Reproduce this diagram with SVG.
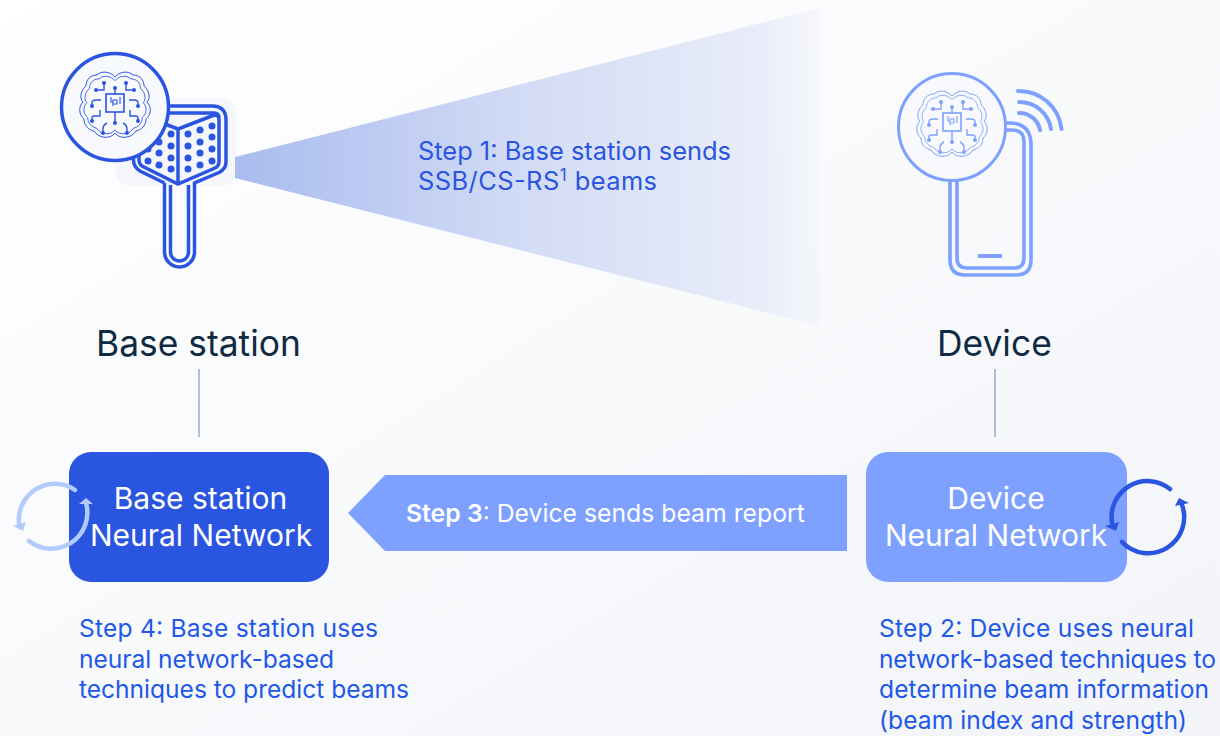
<svg xmlns="http://www.w3.org/2000/svg" width="1220" height="736" viewBox="0 0 1220 736">
<defs>
<linearGradient id="bg" x1="0" y1="0" x2="1" y2="1"><stop offset="0" stop-color="#ffffff"/><stop offset="1" stop-color="#f2f4f8"/></linearGradient>
<linearGradient id="beam" gradientUnits="userSpaceOnUse" x1="235" y1="0" x2="820" y2="0"><stop offset="0" stop-color="#a9bcef"/><stop offset="0.5" stop-color="#d3dcf5"/><stop offset="0.9" stop-color="#e9edfa"/><stop offset="1" stop-color="#f3f5fb" stop-opacity="0.7"/></linearGradient>
<path id="bo" d="M0 -30C-4 -35 -13 -37 -18 -32C-25 -32 -29 -27 -29 -21C-34 -17 -36 -9 -32 -5C-37 0 -36 8 -31 12C-31 19 -26 23 -21 24C-17 31 -5 33 0 26C5 33 17 31 21 24C26 23 31 19 31 12C36 8 37 0 32 -5C36 -9 34 -17 29 -21C29 -27 25 -32 18 -32C13 -37 4 -35 0 -30Z"/>
<g id="half">
<path d="M-11 -24V-17H-19M-23 -1V-4Q-23 -7 -19 -7H-14M-15 3V9H-21Q-23 9 -23 11V14M-12 26V22Q-12 18 -8 16"/>
<circle cx="-11" cy="-24" r="2" class="dot"/><circle cx="-19" cy="-17" r="2" class="dot"/><circle cx="-23" cy="-1" r="2" class="dot"/><circle cx="-23" cy="14" r="2" class="dot"/><circle cx="-12" cy="26" r="2" class="dot"/>
</g>
<g id="brain" fill="none" stroke="currentColor" stroke-width="1.4">
<use href="#bo" stroke-width="1"/>
<use href="#bo" stroke-width="1" transform="scale(0.88 0.88)"/>
<rect x="-9" y="-13" width="18" height="18" stroke-width="1.6"/>
<path d="M-4 -10V-5H-2V-1M5 -10V-3M-2 -7H2V-3H-2Z" stroke-width="1.1"/>
<path d="M0 -13V-19M0 5V16"/>
<circle cx="0" cy="-19" r="2" class="dot"/><circle cx="0" cy="16" r="2" class="dot"/>
<use href="#half"/>
<use href="#half" transform="scale(-1 1)"/>
</g>
</defs>
<style>
text{font-family:"Inter","Liberation Sans",sans-serif}
.dot{fill:currentColor;stroke:none}
.lab{font-size:35.4px;fill:#0f2a43}
.blue{font-size:24.6px;fill:#2258e8}
.step{font-size:25.4px;fill:#2a55e0}
.white{font-size:30px;fill:#fff;text-anchor:middle}
.rep{font-size:24.75px;fill:#fff}
.d{fill:#2a55e0}
.s1{fill:none;stroke:#2a55e0;stroke-width:3.5}
.s2{fill:none;stroke:#7ea1ff;stroke-width:3.6}
.cb{fill:none;stroke:#b3caff;stroke-width:4.5;stroke-linecap:round}
.cd{fill:none;stroke:#2a55e0;stroke-width:4.5;stroke-linecap:round}
</style>
<rect width="1220" height="736" fill="url(#bg)"/>
<rect x="116" y="98" width="120" height="88" rx="14" fill="#f5f6fb"/>
<path d="M235 157L820 8V326L235 178Z" fill="url(#beam)"/>
<g id="base-station-icon">
<path class="s1" d="M164.500 183V252A15 15 0 0 0 194.500 252V183L219 172.500Q226 169 226 162V120Q226 106 212 106H160Q140 106 133.500 140V160Q133.500 167 140 171L164.500 183"/>
<path class="s1" d="M170.500 185V252A9 9 0 0 0 188.500 252V185"/>
<path class="s1" d="M178 129V184M178 129L213 115.500Q219 114 219 120V162Q219 166 215 168L178 184L142 166Q139 164 139 160V125M165 113H214Q219 113 219 118M178 129L165 124"/>
<g class="d">
<circle cx="188" cy="134" r="3.500"/><circle cx="200" cy="130" r="3.500"/><circle cx="212" cy="126" r="3.500"/>
<circle cx="188" cy="146" r="3.500"/><circle cx="200" cy="142" r="3.500"/><circle cx="212" cy="137" r="3.500"/>
<circle cx="188" cy="158" r="3.500"/><circle cx="200" cy="153" r="3.500"/><circle cx="212" cy="149" r="3.500"/>
<circle cx="188" cy="169" r="3.500"/><circle cx="200" cy="165" r="3.500"/><circle cx="212" cy="161" r="3.500"/>
<circle cx="171" cy="134" r="3.500"/><circle cx="159" cy="142" r="3.500"/><circle cx="171" cy="146" r="3.500"/>
<circle cx="148" cy="149" r="3.500"/><circle cx="159" cy="153" r="3.500"/><circle cx="171" cy="158" r="3.500"/>
<circle cx="148" cy="161" r="3.500"/><circle cx="159" cy="165" r="3.500"/><circle cx="171" cy="169" r="3.500"/>
</g>
<circle cx="115" cy="107" r="53.500" fill="#f8f9fc" stroke="#2a55e0" stroke-width="3.500"/>
<use href="#brain" x="115" y="107" color="#2a55e0"/>
</g>
<g id="device-icon">
<path class="s2" d="M950 180V260Q950 275 965 275H1016Q1031 275 1031 260V145Q1031 123 1009 123H1004"/>
<path class="s2" d="M957 180V258Q957 268 967 268H1014Q1024 268 1024 258V142Q1024 130 1012 130H1004"/>
<path class="s2" style="stroke-width:4" d="M978 256H1002"/>
<circle cx="952" cy="127" r="53.500" fill="#f8f9fc" stroke="#7ea1ff" stroke-width="3"/>
<use href="#brain" x="952" y="126" color="#7ea1ff"/>
<path class="s2" style="stroke-width:4" stroke-linecap="round" d="M1018 91A43 43 0 0 1 1061.500 129M1019 102A32 32 0 0 1 1051 129M1019 113A21 21 0 0 1 1040 130"/>
</g>
<text class="step" x="418" y="160" textLength="313">Step 1: Base station sends</text>
<text class="step" x="418" y="190" textLength="239">SSB/CS-RS<tspan font-size="17" dy="-9">1</tspan><tspan dy="9"> beams</tspan></text>
<text class="lab" x="96" y="356">Base station</text>
<text class="lab" x="937" y="356">Device</text>
<g id="connectors">
<path d="M199 369V437M995 369V437" stroke="#b3bfd6" stroke-width="2" fill="none"/>
<path d="M847 475H385L348 513L385 551H847Z" fill="#7ea1ff"/>
<text class="rep" x="406" y="522"><tspan font-weight="600">Step 3</tspan>: Device sends beam report</text>
</g>
<g id="base-station-nn">
<rect x="69" y="452" width="260" height="130" rx="22" fill="#2a55e0"/>
<text class="white" x="200.500" y="509">Base station</text>
<text class="white" x="201" y="546">Neural Network</text>
<path class="cb" d="M75 490A36 36 0 0 0 19 523"/>
<path class="cb" d="M86 503A36 36 0 0 1 29 541"/>
<path d="M13 526L26 522L23 531Z M86 498L93 504L79 504Z" fill="#b3caff"/>
</g>
<g id="device-nn">
<rect x="866" y="452" width="261" height="130" rx="22" fill="#7ea1ff"/>
<text class="white" x="996" y="509">Device</text>
<text class="white" x="996" y="546">Neural Network</text>
<path class="cd" d="M1170 489A36 36 0 0 0 1112 523"/>
<path class="cd" d="M1182 505A36 36 0 0 1 1122 542"/>
<path d="M1105 526L1119 522L1116 531Z M1179 498L1189 503L1175 506Z" fill="#2a55e0"/>
</g>
<g class="blue">
<text x="79" y="637" textLength="299">Step 4: Base station uses</text>
<text x="79" y="668" textLength="255">neural network-based</text>
<text x="79" y="698" textLength="330">techniques to predict beams</text>
<text x="879" y="637" textLength="315">Step 2: Device uses neural</text>
<text x="879" y="668" textLength="337">network-based techniques to</text>
<text x="879" y="698" textLength="330">determine beam information</text>
<text x="879" y="729" textLength="308">(beam index and strength)</text>
</g>
</svg>
